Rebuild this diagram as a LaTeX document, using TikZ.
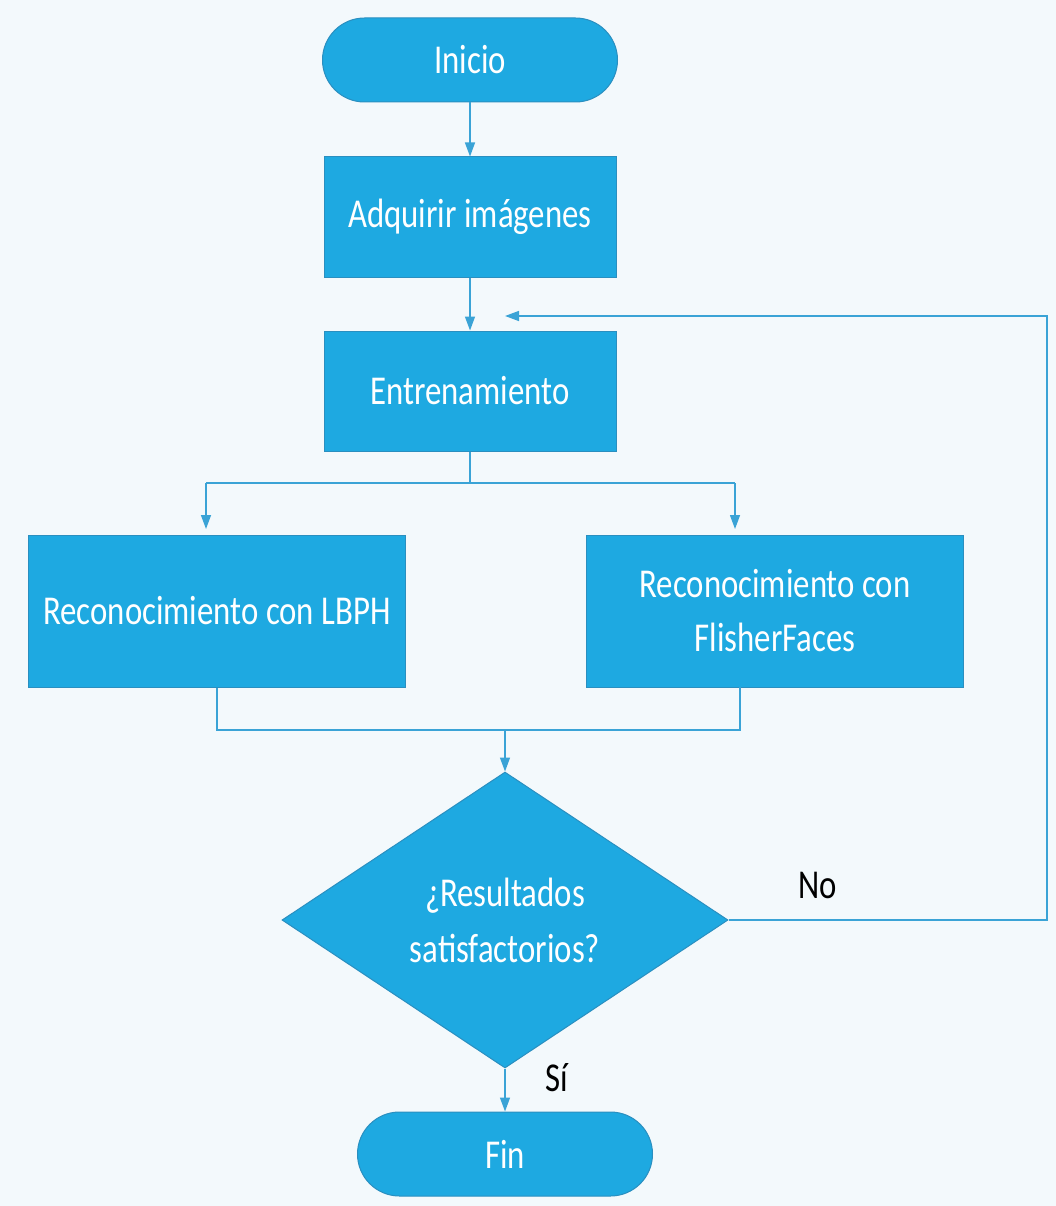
\documentclass[tikz,border=0pt]{standalone}
\usepackage{fontspec}
\setmainfont{Carlito}[FakeStretch=0.8]
\usetikzlibrary{arrows.meta,shapes.geometric}
\definecolor{bg}{HTML}{F3F9FC}
\definecolor{boxfill}{HTML}{1EA9E1}
\definecolor{boxedge}{HTML}{2A8FC0}
\definecolor{linec}{HTML}{3AA3D6}
\tikzset{
  base/.style={fill=boxfill, draw=boxedge, line width=1pt, text=white, font=\fontsize{41}{52}\selectfont, align=center, inner sep=0pt},
  term/.style={base, rounded corners=42pt, minimum width=295pt, minimum height=84pt},
  procbox/.style={base, minimum width=292pt, minimum height=120pt},
  bigbox/.style={base, minimum width=377pt, minimum height=152pt},
  decision/.style={base, diamond, minimum width=446pt, minimum height=296pt},
  conn/.style={draw=linec, line width=1.4pt},
  arr/.style={conn, -{Triangle[length=14pt,width=10pt]}},
  lab/.style={text=black, font=\fontsize{41}{48}\selectfont}
}
\begin{document}
\begin{tikzpicture}[x=1pt,y=-1pt]
\fill[bg] (0,0) rectangle (1056,1206);
\useasboundingbox (0,0) rectangle (1056,1206);

\node[term] (ini) at (470,60) {Inicio};
\node[procbox] (adq) at (470,217) {Adquirir imágenes};
\node[procbox] (ent) at (470,391) {Entrenamiento};
\node[bigbox] (lbph) at (217,611) {Reconocimiento con LBPH};
\node[bigbox] (fish) at (775,611) {Reconocimiento con\\[2pt]FlisherFaces};
\node[decision] (dec) at (505,920) {¿Resultados\\[4pt]satisfactorios?};
\node[term] (fin) at (505,1154) {Fin};

\node[lab] (no) at (818,885) {No};
\node[lab] (si) at (557,1078) {Sí};

% straight arrows
\draw[arr] (ini.south) -- (adq.north);
\draw[arr] (adq.south) -- (ent.north);
\draw[arr] (dec.south) -- (fin.north);

% split
\coordinate (sp) at (470,483);
\coordinate (spL) at (206,483);
\coordinate (spR) at (735,483);
\coordinate (tL) at (206,529);
\coordinate (tR) at (735,529);
\draw[conn] (ent.south) -- (sp);
\draw[conn] (spL) -- (spR);
\draw[arr] (spL) -- (tL);
\draw[arr] (spR) -- (tR);

% merge
\coordinate (mL) at (217,730);
\coordinate (mR) at (740,730);
\coordinate (mC) at (505,730);
\draw[conn] (lbph.south) -- (mL) -- (mR) -- (740,687);
\draw[arr] (mC) -- (dec.north);

% feedback loop
\coordinate (fb1) at (1047,920);
\coordinate (fb2) at (1047,316);
\coordinate (fbE) at (505,316);
\draw[arr] (dec.east) -- (fb1) -- (fb2) -- (fbE);
\end{tikzpicture}
\end{document}
